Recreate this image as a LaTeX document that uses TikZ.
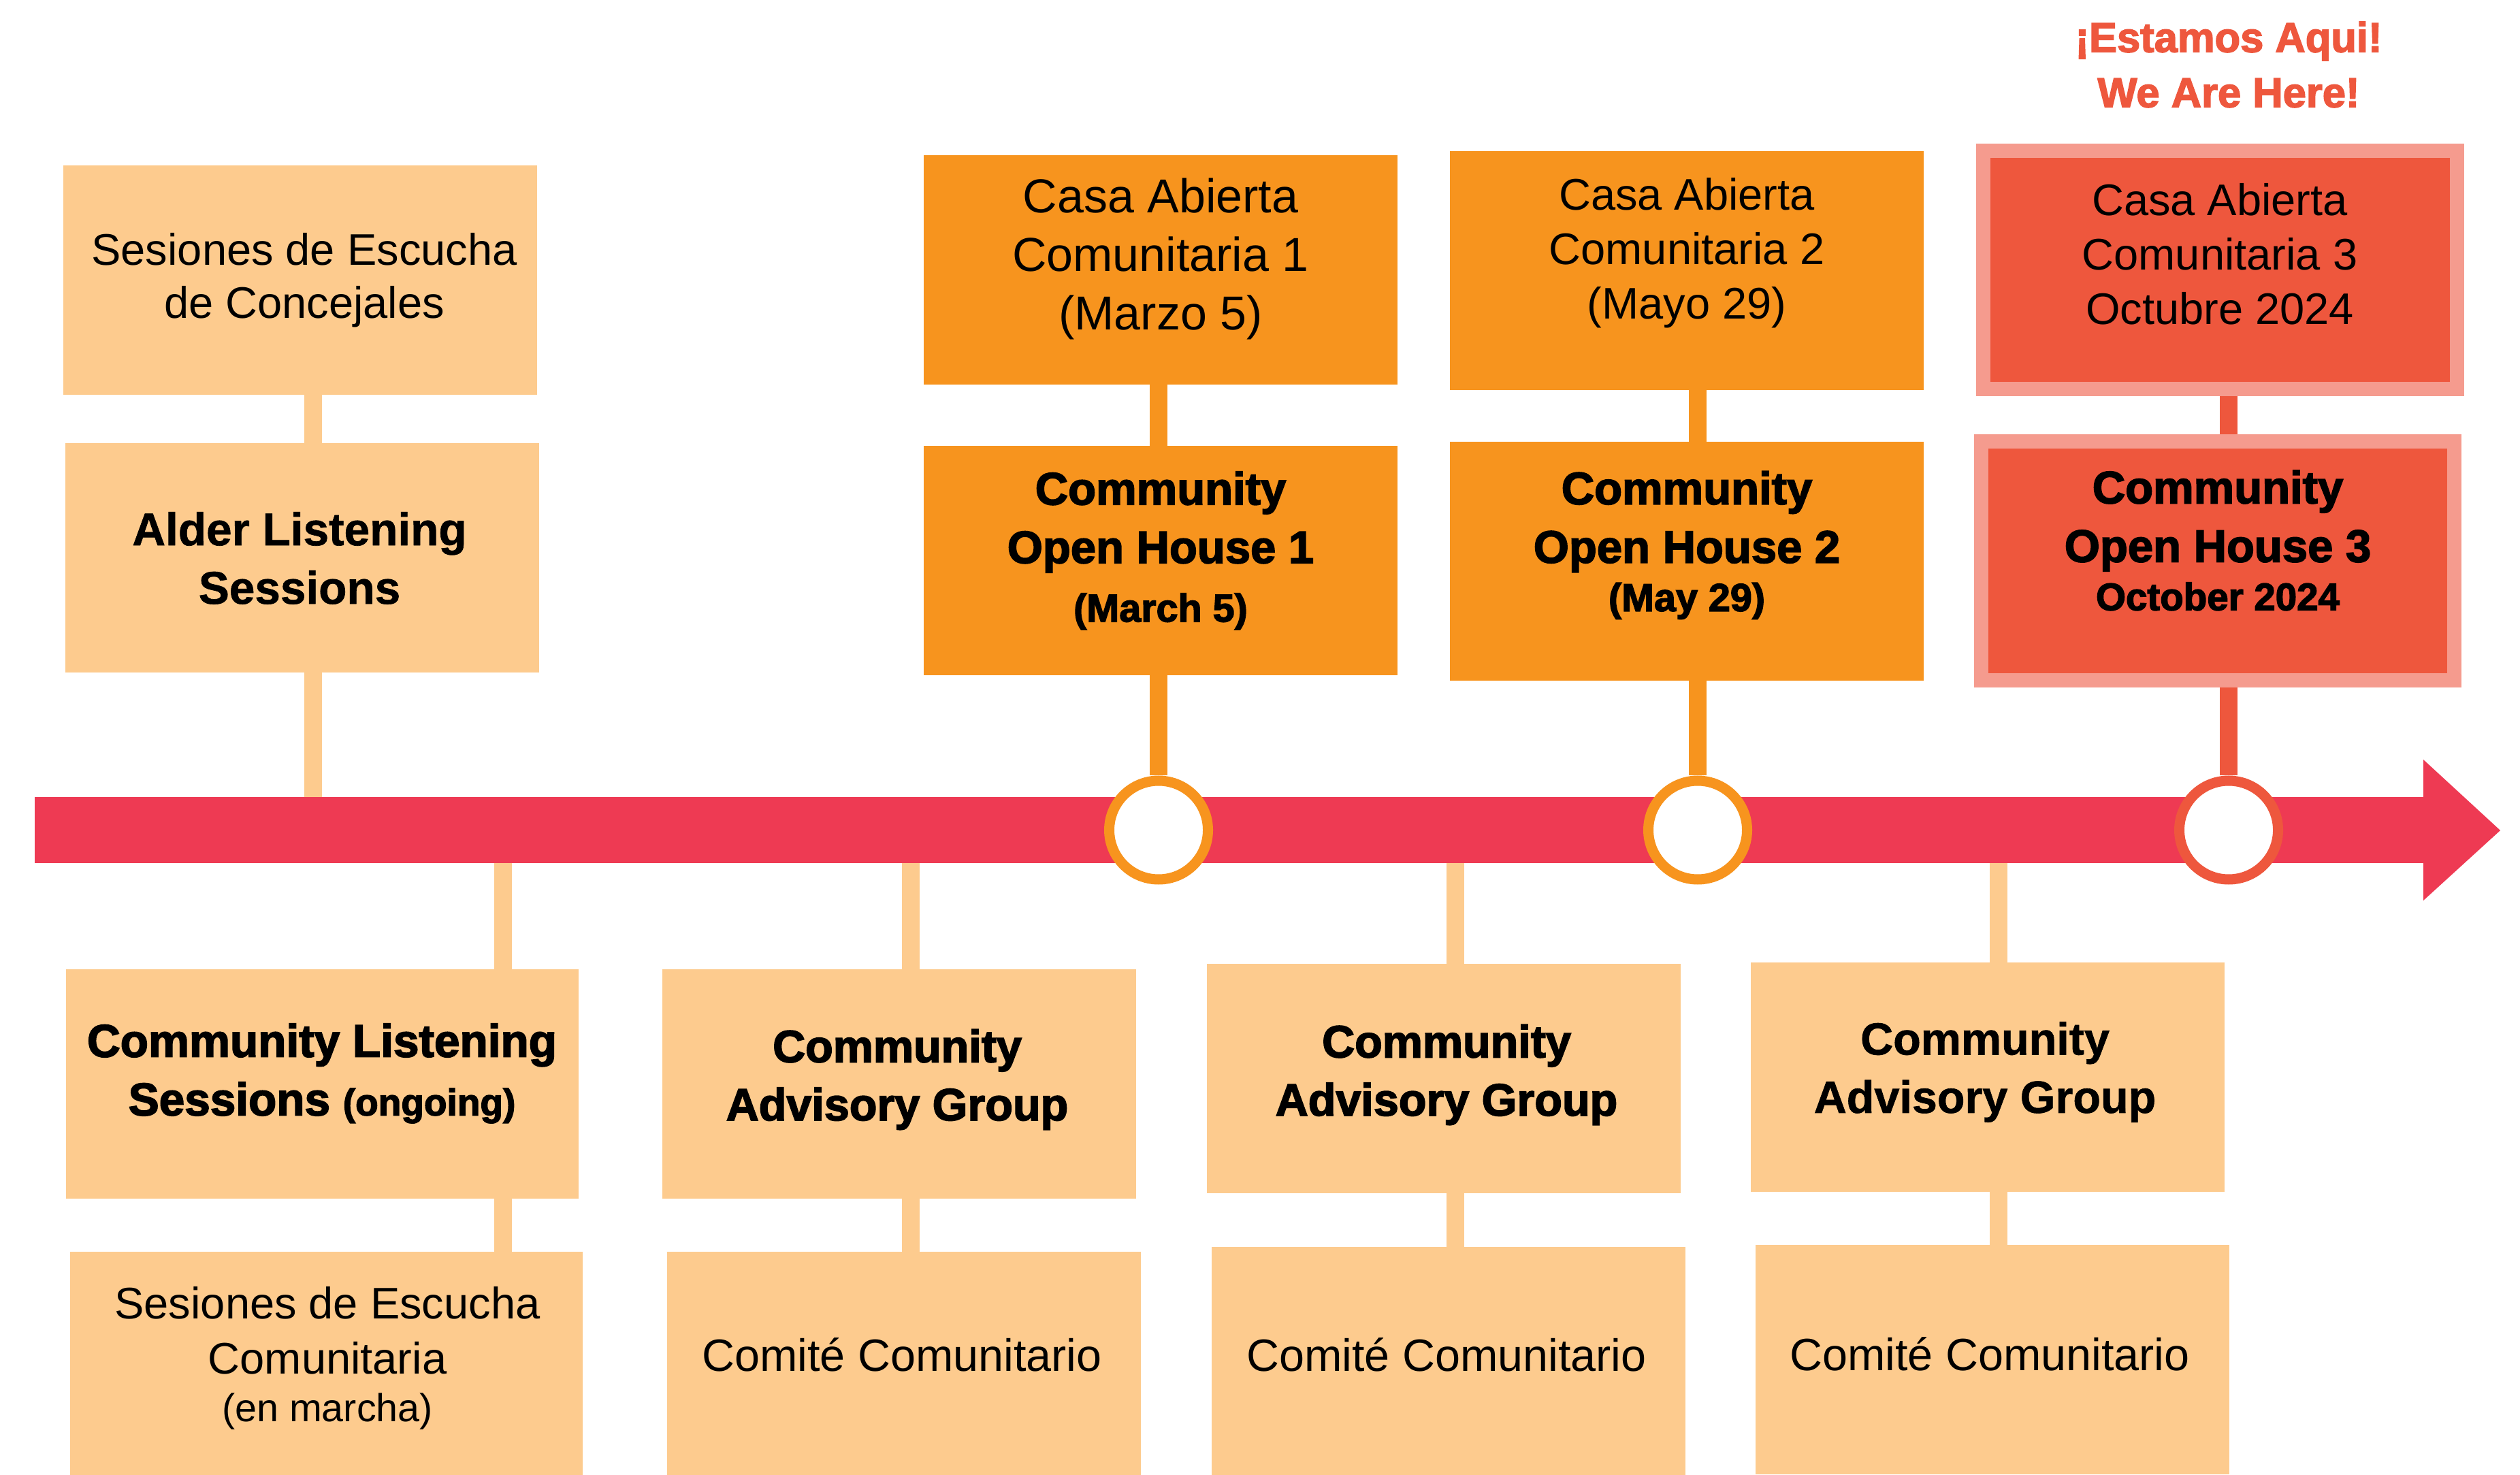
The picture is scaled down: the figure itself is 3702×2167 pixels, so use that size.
\documentclass[tikz,border=0pt]{standalone}
\usepackage{fontspec}
\setmainfont{Liberation Sans}
\newfontfamily\heavyfont{Liberation Sans}[BoldFeatures={FakeBold=2.5}]
\newfontfamily\semifont{Liberation Sans}[BoldFeatures={FakeBold=1.0}]
\definecolor{peach}{HTML}{FDCB8E}
\definecolor{orng}{HTML}{F7941E}
\definecolor{redorng}{HTML}{EE573D}
\definecolor{lightred}{HTML}{F59B8E}
\definecolor{barred}{HTML}{EE3A53}
\begin{document}
\begin{tikzpicture}[x=0.2pt,y=-0.2pt,
  box/.style={rectangle, inner sep=0pt, outer sep=0pt, minimum width=139.2pt, minimum height=67.4pt},
  tall/.style={box, minimum height=70.2pt},
  wide/.style={box, minimum width=150.6pt},
  hot/.style={box, minimum width=139.1pt, minimum height=70.1pt, fill=redorng, draw=lightred, line width=4.2pt},
  lbl/.style={align=center, inner sep=0pt, outer sep=0pt, text=black},
  regA/.style={lbl, font=\fontsize{13}{15.6}\selectfont},
  regB/.style={lbl, font=\fontsize{14}{17.2}\selectfont},
  regC/.style={lbl, font=\fontsize{13}{16}\selectfont},
  regD/.style={lbl, font=\fontsize{13.3}{16}\selectfont},
  boldA/.style={lbl, font=\fontsize{13.5}{17.2}\selectfont\semifont\bfseries},
  heavy/.style={lbl, font=\fontsize{13.4}{17.2}\selectfont\heavyfont\bfseries},
  conn/.style={line width=5.2pt},
  dot/.style={circle, fill=white, line width=3pt, minimum size=29pt, inner sep=0pt}
]
\useasboundingbox (0,0) rectangle (3702,2167);
\clip (0,0) rectangle (3702,2167);
\fill[white] (0,0) rectangle (3702,2167);

% timeline
\node[rectangle, fill=barred, inner sep=0pt, outer sep=0pt, minimum width=702pt, minimum height=19.4pt] (bar) at (1806,1219.5) {};
\fill[barred] (3560,1116) -- (3673,1220) -- (3560,1323) -- cycle;

% circles
\node[dot, draw=orng] (circ1) at (1702,1219.5) {};
\node[dot, draw=orng] (circ2) at (2494,1219.5) {};
\node[dot, draw=redorng] (circ3) at (3274,1219.5) {};

% top boxes
\node[box, fill=peach] (concej) at (441,412) {};
\node[box, fill=peach] (alder) at (444,820) {};
\node[box, fill=orng] (casa1) at (1705,396.5) {};
\node[box, fill=orng] (coh1) at (1705,823.5) {};
\node[tall, fill=orng] (casa2) at (2478,397.5) {};
\node[tall, fill=orng] (coh2) at (2478,824.5) {};
\node[hot] (casa3) at (3261.5,396.3) {};
\node[hot] (coh3) at (3258,824) {};

% bottom boxes
\node[wide, fill=peach] (clist) at (473.5,1592.5) {};
\node[wide, fill=peach] (csec) at (479.5,2007.5) {};
\node[box, fill=peach] (cag1) at (1321,1592.5) {};
\node[box, fill=peach] (com1) at (1328,2007.5) {};
\node[box, fill=peach] (cag2) at (2121,1584.5) {};
\node[box, fill=peach] (com2) at (2128,2000.5) {};
\node[box, fill=peach] (cag3) at (2920,1582.5) {};
\node[box, fill=peach] (com3) at (2927,1997.5) {};

% texts
\node[regA] (tconcej) at (447,412) {Sesiones de Escucha\\de Concejales};
\node[boldA] (talder) at (440,820) {Alder Listening\\Sessions};
\node[regB] (tcasa1) at (1705,380) {Casa Abierta\\Comunitaria 1\\(Marzo 5)};
\node[heavy] (tcoh1) at (1705,809) {Community\\Open House 1\\{\fontsize{11.5}{13}\selectfont (March 5)}};
\node[regC] (tcasa2) at (2478,372) {Casa Abierta\\Comunitaria 2\\(Mayo 29)};
\node[heavy] (tcoh2) at (2478,801) {Community\\Open House 2\\[-3pt]{\fontsize{11.5}{13}\selectfont (May 29)}};
\node[regC] (tcasa3) at (3261,373.5) {Casa Abierta\\Comunitaria 3\\Octubre 2024};
\node[heavy] (tcoh3) at (3258,794) {Community\\Open House 3\\[-3pt]{\fontsize{11.3}{13}\selectfont October 2024}};
\node[lbl, text=redorng, font=\fontsize{12.3}{16.2}\selectfont\heavyfont\bfseries] (there) at (3274,95) {¡Estamos Aqui!\\We Are Here!};

\node[heavy, font=\fontsize{13.5}{17.2}\selectfont\heavyfont\bfseries] (tclist) at (473,1577) {Community Listening\\Sessions {\fontsize{11}{13}\selectfont (ongoing)}};
\node[regA, font=\fontsize{13}{16.2}\selectfont] (tcsec) at (481,1995) {Sesiones de Escucha\\Comunitaria\\[-2.2pt]{\fontsize{11.5}{13}\selectfont (en marcha)}};
\node[heavy, font=\fontsize{13.3}{17.1}\selectfont\heavyfont\bfseries] (tcag1) at (1318,1586) {Community\\Advisory Group};
\node[heavy, font=\fontsize{13.3}{17.1}\selectfont\heavyfont\bfseries] (tcag2) at (2125,1579) {Community\\Advisory Group};
\node[boldA, font=\fontsize{13.3}{17.1}\selectfont\semifont\bfseries] (tcag3) at (2916,1575) {Community\\Advisory Group};
\node[regD] (tcom1) at (1325,1990) {Comité Comunitario};
\node[regD] (tcom2) at (2125,1990) {Comité Comunitario};
\node[regD] (tcom3) at (2923,1989) {Comité Comunitario};

% connector x positions
\coordinate (xa) at (460,0);
\coordinate (xb) at (1702,0);
\coordinate (xc) at (2494,0);
\coordinate (xd) at (3274,0);
\coordinate (xe) at (739,0);
\coordinate (xf) at (1338,0);
\coordinate (xg) at (2138,0);
\coordinate (xh) at (2936,0);

% connectors
\draw[conn, peach] (concej.south -| xa) -- (alder.north -| xa);
\draw[conn, peach] (alder.south -| xa) -- (bar.north -| xa);
\draw[conn, orng] (casa1.south -| xb) -- (coh1.north -| xb);
\draw[conn, orng] (coh1.south -| xb) -- (circ1.north);
\draw[conn, orng] (casa2.south -| xc) -- (coh2.north -| xc);
\draw[conn, orng] (coh2.south -| xc) -- (circ2.north);
\draw[conn, redorng] ([yshift=-2.1pt]casa3.south -| xd) -- ([yshift=2.1pt]coh3.north -| xd);
\draw[conn, redorng] ([yshift=-2.1pt]coh3.south -| xd) -- (circ3.north);
\draw[conn, peach] (bar.south -| xe) -- (clist.north -| xe);
\draw[conn, peach] (clist.south -| xe) -- (csec.north -| xe);
\draw[conn, peach] (bar.south -| xf) -- (cag1.north -| xf);
\draw[conn, peach] (cag1.south -| xf) -- (com1.north -| xf);
\draw[conn, peach] (bar.south -| xg) -- (cag2.north -| xg);
\draw[conn, peach] (cag2.south -| xg) -- (com2.north -| xg);
\draw[conn, peach] (bar.south -| xh) -- (cag3.north -| xh);
\draw[conn, peach] (cag3.south -| xh) -- (com3.north -| xh);
\end{tikzpicture}
\end{document}
